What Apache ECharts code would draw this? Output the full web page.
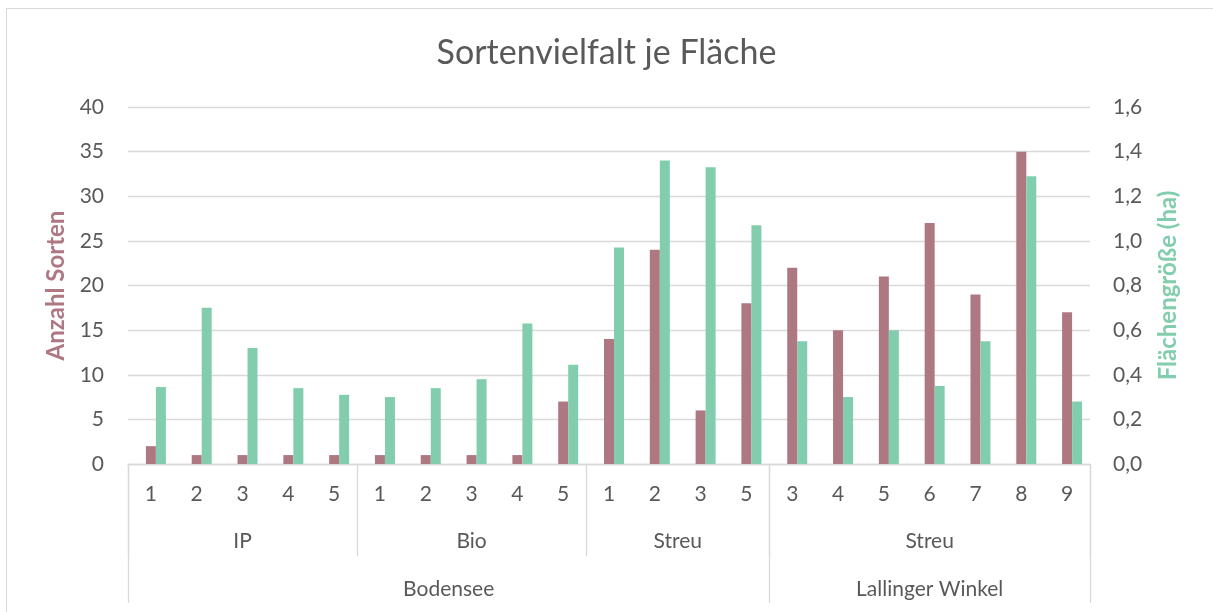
<!DOCTYPE html>
<html>
<head>
<meta charset="utf-8">
<script src="https://cdn.jsdelivr.net/npm/echarts@6/dist/echarts.min.js"></script>
<style>
  html, body { margin: 0; padding: 0; background: #fff; }
  #chart { width: 1213px; height: 612px; }
  #frame { position: absolute; left: 6px; top: 8px; width: 1220px; height: 620px;
           border-left: 1.5px solid #d9d9d9; border-top: 1.5px solid #d9d9d9; pointer-events: none; }
</style>
</head>
<body>
<div id="chart"></div>
<div id="frame"></div>
<script>
// Flächen-Nummern (unterste Achsenebene)
const flaechenNr = ['1','2','3','4','5', '1','2','3','4','5', '1','2','3','5', '3','4','5','6','7','8','9']
// mittlere Ebene
const gruppen = ['IP', 'Bio', 'Streu', 'Streu']
const gruppenAnzahl = [5, 5, 4, 7]
// oberste Ebene
const regionen = ['Bodensee', 'Lallinger Winkel']
const regionenAnzahl = [14, 7]

const anzahlSorten = [2, 1, 1, 1, 1, 1, 1, 1, 1, 7, 14, 24, 6, 18, 22, 15, 21, 27, 19, 35, 17]
const flaechengroesse = [0.345, 0.70, 0.52, 0.34, 0.31, 0.30, 0.34, 0.38, 0.63, 0.445,
  0.97, 1.36, 1.33, 1.07, 0.55, 0.30, 0.60, 0.35, 0.55, 1.29, 0.28]

const rot = '#ae7882'
const gruen = '#82cdad'
const grau = '#595959'
const linie = '#d9d9d9'
const font = 'Lato'
const labelSize = 21

// Grenzen und Mitten der Gruppen aus den Anzahlen
function grenzen(sizes) {
  let out = [0], s = 0
  sizes.forEach(n => { s += n; out.push(s) })
  return out
}
function mitten(sizes) {
  let out = [], s = 0
  sizes.forEach(n => { out.push(s + n / 2); s += n })
  return out
}
const gruppenGrenzen = grenzen(gruppenAnzahl)
const gruppenMitten = mitten(gruppenAnzahl)
const regionenGrenzen = grenzen(regionenAnzahl)
const regionenMitten = mitten(regionenAnzahl)
const total = flaechenNr.length

function ebenenAchse(ticks, labels, names, tickLen, margin) {
  return {
    type: 'value', gridIndex: 0, position: 'bottom', min: 0, max: total,
    axisLine: { show: false },
    splitLine: { show: false },
    axisTick: { show: true, customValues: ticks, length: tickLen, lineStyle: { color: linie, width: 1.3 } },
    axisLabel: {
      show: true, customValues: labels, margin: margin,
      color: grau, fontFamily: font, fontSize: labelSize,
      formatter: v => names[labels.indexOf(v)]
    }
  }
}

const myChart = echarts.init(document.getElementById('chart'))
const option = {
  backgroundColor: '#fff',
  animation: false,
  title: {
    text: 'Sortenvielfalt je Fläche',
    left: 'center', top: 31,
    textStyle: { color: grau, fontFamily: font, fontSize: 34, fontWeight: 'normal' }
  },
  grid: { left: 128, right: 123, top: 107, bottom: 148, outerBoundsMode: 'none' },
  xAxis: [
    {
      type: 'category', data: flaechenNr, position: 'bottom',
      axisLine: { show: true, lineStyle: { color: linie, width: 1.3 } },
      axisTick: { show: false },
      axisLabel: { color: grau, fontFamily: font, fontSize: labelSize, margin: 20, interval: 0 }
    },
    ebenenAchse(gruppenGrenzen, gruppenMitten, gruppen, 92, 67),
    ebenenAchse(regionenGrenzen, regionenMitten, regionen, 139, 115)
  ],
  yAxis: [
    {
      type: 'value', min: 0, max: 40, interval: 5,
      name: 'Anzahl Sorten', nameLocation: 'middle', nameGap: 57, nameRotate: 90,
      nameTextStyle: { color: rot, fontFamily: font, fontSize: 24, fontWeight: 'bold' },
      axisLine: { show: false }, axisTick: { show: false },
      axisLabel: { color: grau, fontFamily: font, fontSize: labelSize, margin: 24 },
      splitLine: { lineStyle: { color: linie, width: 1.3 } }
    },
    {
      type: 'value', min: 0, max: 1.6, interval: 0.2,
      name: 'Flächengröße (ha)', nameLocation: 'middle', nameGap: 66, nameRotate: 90,
      nameTextStyle: { color: gruen, fontFamily: font, fontSize: 24, fontWeight: 'bold' },
      axisLine: { show: false }, axisTick: { show: false },
      axisLabel: { color: grau, fontFamily: font, fontSize: labelSize, margin: 23,
        formatter: v => v.toFixed(1).replace('.', ',') },
      splitLine: { show: false }
    }
  ],
  series: [
    // leere Reihe wie im Original, damit die Säulenpaare versetzt stehen
    { name: '', type: 'bar', xAxisIndex: 0, yAxisIndex: 0, data: [], barWidth: 10, barGap: 0 },
    {
      name: 'Anzahl Sorten', type: 'bar', xAxisIndex: 0, yAxisIndex: 0,
      data: anzahlSorten, barWidth: 10, barGap: 0,
      itemStyle: { color: rot }
    },
    {
      name: 'Flächengröße (ha)', type: 'bar', xAxisIndex: 0, yAxisIndex: 1,
      data: flaechengroesse, barWidth: 10, barGap: 0,
      itemStyle: { color: gruen }
    }
  ]
}
myChart.setOption(option)
</script>
</body>
</html>
